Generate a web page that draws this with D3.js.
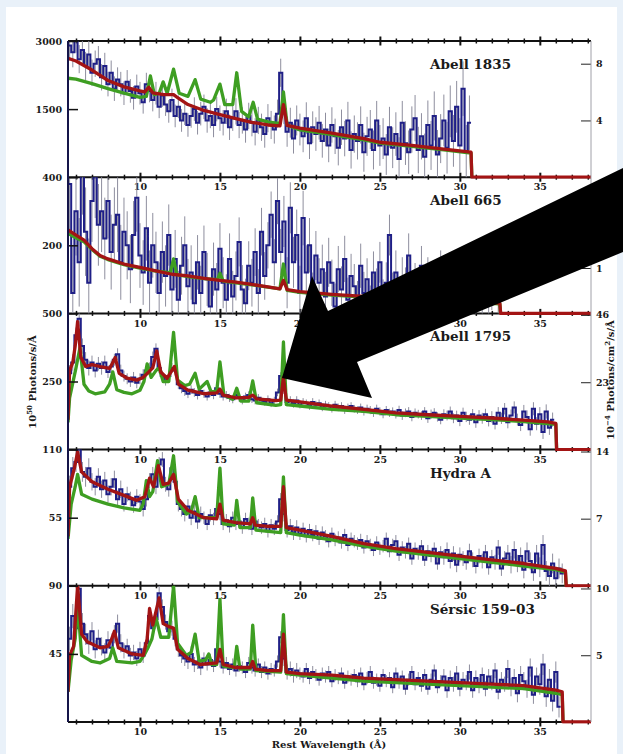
<!DOCTYPE html>
<html>
<head>
<meta charset="utf-8">
<script src="https://cdn.jsdelivr.net/npm/d3@7"></script>
<style>
body { margin: 0; background: #e9f1f9; }
text { font-family: "DejaVu Serif", serif; font-weight: bold; fill: #1a1a1a; }
</style>
</head>
<body>
<script>
// Data //////////////////////////////////////////////

// blue spectra are binned: first bin centre and bin width in Angstrom
var binStart = 5.6;
var binStep = 0.2;
// error bars are listed per 1 Angstrom, first entry is 5-6 A
var errStart = 5;

var panelNames = ["Abell 1835", "Abell 665", "Abell 1795", "Hydra A", "S\u00e9rsic 159\u201303"];
var leftMax = [3000, 400, 500, 110, 90];
var leftTicks = [[3000, 1500], [400, 200], [500, 250], [110, 55], [90, 45]];
var rightMax = [9.6, 3.0, 46.5, 14.2, 10.2];
var rightTicks = [[8, 4], [2, 1], [46, 23], [14, 7], [10, 5]];
var majorWave = [10, 15, 20, 25, 30, 35];
var minorWave = [6, 7, 8, 9, 11, 12, 13, 14, 16, 17, 18, 19, 21, 22, 23, 24, 26, 27, 28, 29, 31, 32, 33, 34, 36, 37, 38];

// Abell 1835
var blue1835 = [2900, 2750, 3050, 2600, 2800, 2450, 2700, 2300, 2500, 2600,
	2200, 2450, 2050, 2300, 1950, 2150, 2050, 1850, 2100, 1900,
	1750, 2000, 1850, 1650, 2050, 1900, 1700, 1850, 1550, 1800,
	1600, 1450, 1700, 1350, 1550, 1250, 1400, 1150, 1350, 1500,
	1200, 1400, 1550, 1250, 1350, 1150, 1500, 1300, 1200, 1450,
	1100, 1300, 1450, 1150, 1250, 1050, 1350, 1200, 1000, 1250,
	1100, 950, 1300, 1150, 1050, 1400, 2300, 1500, 1000, 1200,
	850, 1250, 1050, 900, 1300, 750, 1100, 950, 1200, 800,
	1050, 700, 1150, 900, 650, 1100, 850, 1250, 600, 950,
	800, 1150, 550, 900, 1050, 600, 1250, 700, 850, 500,
	1100, 650, 950, 400, 1200, 750, 550, 1050, 1300, 600,
	900, 450, 1150, 700, 1350, 500, 850, 1250, 650, 1450,
	800, 1550, 700, 1950, 550, 1200];
var err1835 = [330, 310, 290, 270, 260, 250, 250, 250, 260, 270, 280, 290, 300, 310,
	330, 350, 370, 390, 410, 430, 450, 480, 510, 540, 570, 600];
var red1835 = [[5.5, 2620], [6, 2560], [7, 2360], [8, 2130], [9, 1990], [10, 1900], [10.3, 1880], [10.55, 1980],
	[10.8, 1860], [11.5, 1820], [12.1, 1820], [12.4, 1740], [13, 1600], [14, 1470], [15, 1380], [16, 1290],
	[17, 1210], [18, 1150], [18.75, 1130], [18.97, 1600], [19.2, 1140], [20, 1080], [22, 970], [24, 850],
	[25, 770], [27, 700], [29, 620], [30.7, 550], [30.75, 0], [38.2, 0]];
var green1835 = [[5.5, 2180], [6, 2160], [7, 2060], [8, 1950], [9, 1850], [10, 1760], [10.4, 1780], [10.65, 2230],
	[10.9, 1820], [11.2, 1850], [11.45, 2100], [11.7, 1850], [12.1, 2380], [12.45, 1850], [13.0, 1780],
	[13.45, 2150], [13.8, 1720], [14.4, 1650], [14.6, 1700], [15.0, 2050], [15.3, 1600], [15.8, 1600],
	[16.05, 2300], [16.35, 1450], [16.8, 1330], [17.08, 1650], [17.35, 1280], [18.0, 1220], [18.75, 1180],
	[18.97, 1880], [19.2, 1150], [20, 1040], [22, 940], [24, 820], [25, 750], [27, 680], [29, 600],
	[30.7, 530], [30.75, 0]];

// Abell 665
var blue665 = [380, 60, 300, 150, 420, 240, 90, 330, 400, 260,
	300, 220, 330, 180, 260, 290, 150, 240, 200, 130,
	230, 340, 170, 120, 250, 90, 200, 150, 60, 180,
	110, 230, 70, 160, 40, 140, 200, 80, 120, 30,
	150, 60, 180, 100, 20, 130, 70, 190, 90, 40,
	160, 50, 110, 210, 70, 30, 140, 90, 180, 60,
	240, 110, 200, 290, 150, 330, 180, 270, 90, 310,
	150, 230, 60, 280, 120, 200, 40, 170, 90, 130,
	50, 150, 90, 20, 130, 70, 160, 40, 110, 80,
	30, 140, 60, 100, 20, 120, 70, 150, 40, 90,
	230, 60, 120, 20, 100, 70, 170, 30, 90, 50,
	140, 20, 110, 60, 80, 30, 130, 50, 20, 100,
	40, 90, 20, 110, 60, 30, 80, 20, 70, 40,
	90, 30, 60, 110, 50];
var err665 = [140, 130, 120, 110, 100, 95, 90, 85, 80, 78, 75, 72, 70, 68, 75, 80, 72, 68, 65, 62,
	60, 65, 58, 55, 55, 52, 50, 50];
var red665 = [[5.5, 245], [6, 230], [6.5, 215], [7, 190], [7.5, 170], [8, 160], [9, 145], [10, 135], [11, 125],
	[12, 115], [13, 110], [14, 103], [15, 97], [16, 92], [17, 85], [18, 78], [18.75, 72], [18.97, 97], [19.2, 70],
	[20, 64], [22, 56], [24, 50], [26, 45], [28, 40], [30, 35], [32.5, 30], [32.55, 0], [38.2, 0]];
var green665 = [[5.5, 235], [6, 222], [6.5, 210], [7, 188], [7.5, 168], [8, 158], [9, 143], [10, 133], [11, 124],
	[11.9, 120], [12.1, 160], [12.3, 114], [13, 108], [14, 102], [14.85, 99], [15.0, 118], [15.2, 95], [16, 90],
	[17, 84], [18, 77], [18.75, 72], [18.97, 145], [19.2, 68], [20, 62], [22, 54], [24, 48], [26, 43], [28, 38],
	[30, 33], [32.5, 28], [32.55, 0]];

// Abell 1795
var blue1795 = [280, 320, 420, 480, 380, 330, 300, 320, 290, 315,
	300, 320, 285, 305, 330, 350, 290, 270, 260, 250,
	265, 245, 260, 275, 290, 300, 340, 370, 300, 270,
	255, 270, 300, 290, 240, 225, 215, 205, 220, 210,
	200, 215, 205, 195, 210, 200, 225, 205, 195, 200,
	190, 185, 200, 190, 180, 195, 200, 185, 180, 190,
	180, 175, 185, 170, 180, 210, 270, 220, 175, 180,
	170, 180, 165, 175, 170, 160, 175, 165, 170, 155,
	165, 160, 150, 165, 155, 160, 145, 155, 160, 150,
	145, 155, 140, 150, 145, 135, 150, 140, 130, 145,
	135, 140, 130, 145, 125, 135, 140, 120, 135, 130,
	125, 140, 115, 130, 135, 120, 110, 130, 125, 140,
	115, 125, 105, 135, 120, 110, 130, 100, 125, 115,
	130, 105, 120, 95, 135, 115, 150, 100, 125, 155,
	110, 90, 140, 120, 75, 150, 95, 130, 65, 140,
	80, 110];
var err1795 = [30, 28, 25, 22, 20, 20, 20, 18, 16, 15, 15, 14, 14, 14, 16, 14, 14, 14, 14, 15,
	15, 16, 16, 17, 18, 19, 20, 21, 22, 24, 26, 28];
var red1795 = [[5.5, 110], [5.6, 290], [5.8, 320], [5.95, 380], [6.1, 470], [6.3, 340], [6.6, 305], [7, 312],
	[7.5, 305], [8.1, 298], [8.3, 320], [8.45, 338], [8.7, 280], [9.2, 262], [9.8, 255], [10.2, 265],
	[10.55, 285], [10.8, 300], [11.05, 362], [11.3, 285], [11.7, 262], [12.15, 305], [12.4, 240], [13, 218],
	[13.5, 212], [14, 205], [14.8, 208], [15.0, 222], [15.2, 200], [16, 190], [16.8, 192], [17.05, 200],
	[17.3, 186], [18.5, 180], [18.8, 182], [18.97, 265], [19.15, 182], [20, 175], [22, 160], [24, 148],
	[26, 135], [28, 128], [30, 122], [32, 116], [34, 108], [35.5, 102], [36.0, 96], [36.05, 0], [38.2, 0]];
var green1795 = [[5.5, 100], [5.6, 190], [5.8, 245], [6.0, 300], [6.25, 375], [6.5, 240], [6.8, 215], [7.2, 205],
	[7.8, 212], [8.1, 240], [8.3, 285], [8.55, 220], [9.0, 210], [9.5, 205], [10.0, 218], [10.25, 250],
	[10.45, 315], [10.7, 265], [11.0, 290], [11.2, 300], [11.45, 250], [11.8, 250], [12.1, 430], [12.35, 255],
	[12.8, 235], [13.1, 240], [13.45, 280], [13.7, 222], [14.2, 250], [14.45, 212], [14.8, 215], [15.0, 322],
	[15.25, 200], [15.8, 185], [16.05, 225], [16.3, 178], [16.8, 178], [17.05, 252], [17.3, 172], [18.5, 162],
	[18.8, 165], [18.97, 395], [19.15, 165], [20, 160], [22, 148], [24, 140], [26, 128], [28, 122], [30, 116],
	[32, 110], [34, 103], [36.0, 93], [36.05, 0]];

// Hydra A
var blueHydra = [80, 95, 100, 110, 92, 88, 95, 84, 80, 88,
	78, 85, 74, 80, 86, 70, 78, 66, 74, 70,
	65, 72, 68, 62, 70, 85, 90, 80, 98, 102,
	82, 78, 95, 84, 66, 62, 58, 64, 55, 60,
	52, 58, 55, 50, 57, 54, 62, 58, 50, 53,
	48, 55, 50, 52, 47, 54, 50, 46, 52, 49,
	47, 50, 44, 49, 46, 52, 70, 58, 45, 48,
	43, 47, 42, 46, 40, 45, 41, 44, 38, 43,
	40, 36, 42, 37, 39, 35, 41, 33, 38, 36,
	34, 37, 31, 36, 33, 29, 35, 30, 32, 38,
	28, 33, 36, 25, 31, 27, 34, 22, 30, 26,
	32, 21, 28, 24, 30, 18, 27, 23, 29, 20,
	26, 17, 25, 22, 19, 28, 21, 16, 24, 20,
	27, 15, 23, 19, 31, 14, 22, 26, 17, 29,
	18, 24, 13, 28, 20, 11, 26, 15, 33, 12,
	8, 18, 6, 14, 10];
var errHydra = [9, 8, 7, 7, 6, 6, 6, 6, 6, 5, 5, 5, 5, 5, 6, 5, 5, 5, 5, 5,
	5, 5, 5, 5, 6, 6, 6, 6, 7, 7, 8, 8];
var redHydra = [[5.5, 40], [5.6, 80], [5.9, 95], [6.1, 108], [6.35, 92], [7, 84], [8, 78], [9, 73], [9.8, 69],
	[10.3, 72], [10.6, 87], [10.85, 80], [11.15, 97], [11.45, 82], [11.8, 83], [12.1, 90], [12.4, 70], [13, 61],
	[13.5, 58], [14, 55], [14.8, 54], [15.0, 66], [15.2, 53], [16, 51], [16.9, 50], [17.05, 55], [17.2, 49],
	[18, 48], [18.8, 48], [18.97, 80], [19.15, 47], [20, 45], [22, 40], [24, 34], [26, 30], [28, 27], [30, 24],
	[32, 21], [34, 18], [36, 14], [36.6, 12], [36.65, 0], [38.2, 0]];
var greenHydra = [[5.5, 38], [5.7, 66], [5.95, 80], [6.1, 90], [6.35, 74], [7.0, 70], [8, 66], [9, 63], [10, 61],
	[10.2, 66], [10.4, 85], [10.6, 72], [10.8, 76], [11.1, 101], [11.35, 80], [11.8, 82], [12.1, 105],
	[12.35, 68], [12.9, 58], [13.2, 60], [13.45, 72], [13.7, 55], [14.2, 55], [14.8, 55], [15.0, 95],
	[15.2, 50], [15.9, 49], [16.05, 69], [16.25, 47], [16.9, 47], [17.05, 71], [17.25, 45], [18.8, 43],
	[18.97, 88], [19.15, 43], [20, 41], [22, 37], [24, 32], [26, 28], [28, 25], [30, 22], [32, 19], [34, 16],
	[36, 13], [36.6, 11], [36.65, 0]];

// Sersic 159-03
var blueSersic = [55, 70, 62, 88, 65, 58, 52, 60, 48, 55,
	50, 46, 54, 49, 58, 65, 52, 47, 50, 44,
	46, 42, 48, 44, 52, 70, 62, 68, 85, 76,
	66, 60, 62, 55, 48, 44, 42, 40, 45, 38,
	40, 36, 42, 38, 41, 37, 48, 40, 36, 39,
	35, 38, 34, 37, 36, 33, 39, 36, 34, 38,
	33, 36, 32, 35, 34, 40, 56, 42, 33, 35,
	31, 34, 32, 30, 35, 29, 33, 31, 28, 32,
	30, 33, 27, 31, 29, 32, 26, 30, 28, 31,
	27, 32, 25, 29, 33, 26, 28, 24, 31, 27,
	29, 23, 32, 26, 30, 22, 28, 33, 25, 29,
	24, 31, 22, 28, 34, 23, 27, 30, 21, 29,
	25, 32, 22, 28, 26, 33, 21, 29, 24, 31,
	22, 30, 26, 34, 20, 28, 25, 35, 23, 29,
	19, 31, 27, 22, 36, 18, 30, 25, 38, 17,
	28, 14, 33, 10];
var errSersic = [8, 7, 6, 6, 5, 5, 5, 5, 5, 4, 4, 4, 4, 4, 5, 4, 4, 4, 4, 4,
	4, 4, 4, 4, 5, 5, 5, 5, 6, 6, 7, 7];
var redSersic = [[5.5, 20], [5.6, 44], [5.85, 50], [6.1, 90], [6.35, 58], [6.7, 53], [7.5, 49], [8.0, 50],
	[8.2, 54], [8.4, 60], [8.65, 49], [9.5, 45], [10.2, 44], [10.45, 55], [10.6, 75], [10.8, 64], [11.2, 82],
	[11.45, 65], [11.8, 63], [12.1, 62], [12.35, 48], [13, 42], [13.75, 38], [14.8, 39], [15.0, 48], [15.2, 38],
	[16, 36], [16.9, 36], [17.05, 40], [17.2, 35], [18, 34], [18.8, 34], [18.97, 58], [19.15, 33], [20, 32],
	[22, 31], [24, 29], [26, 28], [28, 27], [30, 26], [32, 25], [34, 24], [36, 21], [36.4, 20], [36.45, 0],
	[38.2, 0]];
var greenSersic = [[5.5, 20], [5.7, 41], [5.95, 55], [6.1, 79], [6.35, 44], [7.0, 40], [7.5, 39], [8.1, 42],
	[8.3, 49], [8.55, 40], [9.5, 39], [10, 40], [10.3, 45], [10.5, 49], [10.75, 55], [11.0, 69], [11.3, 56],
	[11.8, 56], [12.1, 90], [12.35, 52], [12.9, 44], [13.2, 46], [13.45, 58], [13.7, 40], [14.1, 41], [14.3, 45],
	[14.5, 38], [14.8, 38], [15.0, 81], [15.2, 37], [15.9, 36], [16.05, 50], [16.25, 35], [16.9, 35],
	[17.05, 64], [17.25, 34], [18.8, 33], [18.97, 71], [19.15, 32], [20, 31], [22, 29], [24, 27], [26, 26],
	[28, 25], [30, 24], [32, 23], [34, 22], [36, 19], [36.4, 18], [36.45, 0]];

var blueSets = [blue1835, blue665, blue1795, blueHydra, blueSersic];
var errSets = [err1835, err665, err1795, errHydra, errSersic];
var redSets = [red1835, red665, red1795, redHydra, redSersic];
var greenSets = [green1835, green665, green1795, greenHydra, greenSersic];

// SVG + layout ///////////////////////////////////////

var W = 623, H = 754;
var plotLeft = 68, plotRight = 591;
var plotTop = 41, panelH = 136.2;

var svg = d3.select("body").append("svg")
	.attr("width", W)
	.attr("height", H);

svg.append("rect").attr("width", W).attr("height", H).attr("fill", "#e9f1f9");
svg.append("rect").attr("x", 6).attr("y", 7).attr("width", 611).attr("height", H - 7).attr("fill", "#ffffff");

var xScale = d3.scaleLinear().domain([5.5, 38.2]).range([plotLeft, plotRight]);

var defs = svg.append("defs");

function fontStyle(sel, size)
{
	sel.attr("font-size", size).attr("font-family", "DejaVu Serif").attr("font-weight", "bold");
}

// wavelength axes on every panel boundary (drawn first, the spectra sit on top)
d3.range(6).forEach(function(k)
{
	var yy = plotTop + k * panelH;
	var labels = k > 0;

	svg.append("line")
		.attr("x1", plotLeft).attr("x2", plotRight)
		.attr("y1", yy).attr("y2", yy)
		.attr("stroke", "#111").attr("stroke-width", 2);

	[d3.axisBottom, d3.axisTop].forEach(function(ax, s)
	{
		var major = ax(xScale).tickValues(majorWave).tickSizeOuter(0).tickSizeInner(4.5)
			.tickPadding(2)
			.tickFormat((s == 0 && labels) ? d3.format("d") : "");
		var gm = svg.append("g").attr("transform", "translate(0," + yy + ")").call(major);
		gm.select(".domain").remove();
		gm.selectAll("line").attr("stroke", "#111").attr("stroke-width", 2);
		fontStyle(gm.selectAll("text"), 9.5);

		var minor = ax(xScale).tickValues(minorWave).tickSizeOuter(0).tickSizeInner(2.5).tickFormat("");
		var gn = svg.append("g").attr("transform", "translate(0," + yy + ")").call(minor);
		gn.select(".domain").remove();
		gn.selectAll("line").attr("stroke", "#111").attr("stroke-width", 1.5);
	});
});

panelNames.forEach(function(name, i)
{
	var top = plotTop + i * panelH;
	var bot = top + panelH;

	var yScale = d3.scaleLinear().domain([0, leftMax[i]]).range([bot, top]);
	var yRight = d3.scaleLinear().domain([0, rightMax[i]]).range([bot, top]);

	defs.append("clipPath").attr("id", "clip" + i)
		.append("rect")
			.attr("x", plotLeft).attr("y", top)
			.attr("width", plotRight - plotLeft).attr("height", panelH + 1.5);

	var g = svg.append("g").attr("clip-path", "url(#clip" + i + ")");

	var blue = blueSets[i];
	var err = errSets[i];
	var wave = function(j){ return binStart + j * binStep; };
	var errOf = function(j){ return err[Math.floor(wave(j)) - errStart]; };

	//error bars
	g.selectAll(".err").data(blue).enter().append("line")
		.attr("x1", function(d, j){ return xScale(wave(j)); })
		.attr("x2", function(d, j){ return xScale(wave(j)); })
		.attr("y1", function(d, j){ return yScale(Math.max(0, d - errOf(j))); })
		.attr("y2", function(d, j){ return yScale(d + errOf(j)); })
		.attr("stroke", "#8e8e9e")
		.attr("stroke-width", 1);

	//binned data as a histogram line
	var steps = [];
	blue.forEach(function(d, j)
	{
		steps.push([wave(j) - binStep / 2, d]);
		steps.push([wave(j) + binStep / 2, d]);
	});

	var line = d3.line()
		.x(function(d){ return xScale(d[0]); })
		.y(function(d){ return yScale(d[1]); });

	g.append("path").datum(steps)
		.attr("d", line)
		.attr("fill", "none")
		.attr("stroke", "#1f1f86")
		.attr("stroke-width", 2);

	g.append("path").datum(greenSets[i])
		.attr("d", line)
		.attr("fill", "none")
		.attr("stroke", "#3e9e22")
		.attr("stroke-width", 3.3)
		.attr("stroke-linejoin", "round");

	g.append("path").datum(redSets[i])
		.attr("d", line)
		.attr("fill", "none")
		.attr("stroke", "#a31414")
		.attr("stroke-width", 3.3)
		.attr("stroke-linejoin", "round");

	//left axis
	var yAxis = d3.axisLeft(yScale)
		.tickValues(leftTicks[i])
		.tickSizeInner(-10)
		.tickSizeOuter(0)
		.tickPadding(6)
		.tickFormat(d3.format("d"));
	var ga = svg.append("g").attr("transform", "translate(" + plotLeft + ",0)").call(yAxis);
	ga.select(".domain").remove();
	ga.selectAll("line").attr("stroke", "#111").attr("stroke-width", 1.5);
	fontStyle(ga.selectAll("text"), 9.5);

	//right axis
	var rAxis = d3.axisRight(yRight)
		.tickValues(rightTicks[i])
		.tickSizeInner(-10)
		.tickSizeOuter(0)
		.tickPadding(5)
		.tickFormat(d3.format("d"));
	var gr = svg.append("g").attr("transform", "translate(" + plotRight + ",0)").call(rAxis);
	gr.select(".domain").remove();
	gr.selectAll("line").attr("stroke", "#222").attr("stroke-width", 1);
	fontStyle(gr.selectAll("text"), 9.5);

	//cluster name
	svg.append("text")
		.attr("x", 430)
		.attr("y", top + 28)
		.attr("font-size", 13.5)
		.text(name);
});

// frame
svg.append("line")
	.attr("x1", plotLeft).attr("x2", plotLeft)
	.attr("y1", plotTop).attr("y2", plotTop + 5 * panelH)
	.attr("stroke", "#15154a").attr("stroke-width", 2);
svg.append("line")
	.attr("x1", plotRight).attr("x2", plotRight)
	.attr("y1", plotTop).attr("y2", plotTop + 5 * panelH)
	.attr("stroke", "#a0a0a8").attr("stroke-width", 1);

// axis titles
var lt = svg.append("text")
	.attr("transform", "translate(36,382) rotate(-90)")
	.attr("text-anchor", "middle")
	.attr("font-size", 10);
lt.append("tspan").text("10");
lt.append("tspan").attr("dy", -4).attr("font-size", 7).text("50");
lt.append("tspan").attr("dy", 4).text(" Photons/s/\u00c5");

var rt = svg.append("text")
	.attr("transform", "translate(614,380) rotate(-90)")
	.attr("text-anchor", "middle")
	.attr("font-size", 10);
rt.append("tspan").text("10");
rt.append("tspan").attr("dy", -4).attr("font-size", 7).text("\u22124");
rt.append("tspan").attr("dy", 4).text(" Photons/cm");
rt.append("tspan").attr("dy", -4).attr("font-size", 7).text("2");
rt.append("tspan").attr("dy", 4).text("/s/\u00c5");

svg.append("text")
	.attr("x", 329)
	.attr("y", 748)
	.attr("text-anchor", "middle")
	.attr("font-size", 10)
	.text("Rest Wavelength (\u00c5)");

// the big arrow drawn over the figure
var arrowPts = [[282, 378], [312, 276], [328, 311], [623, 168], [623, 252], [357, 362], [372, 398]];
svg.append("path")
	.attr("d", d3.line()(arrowPts) + "Z")
	.attr("fill", "#000");
</script>
</body>
</html>
